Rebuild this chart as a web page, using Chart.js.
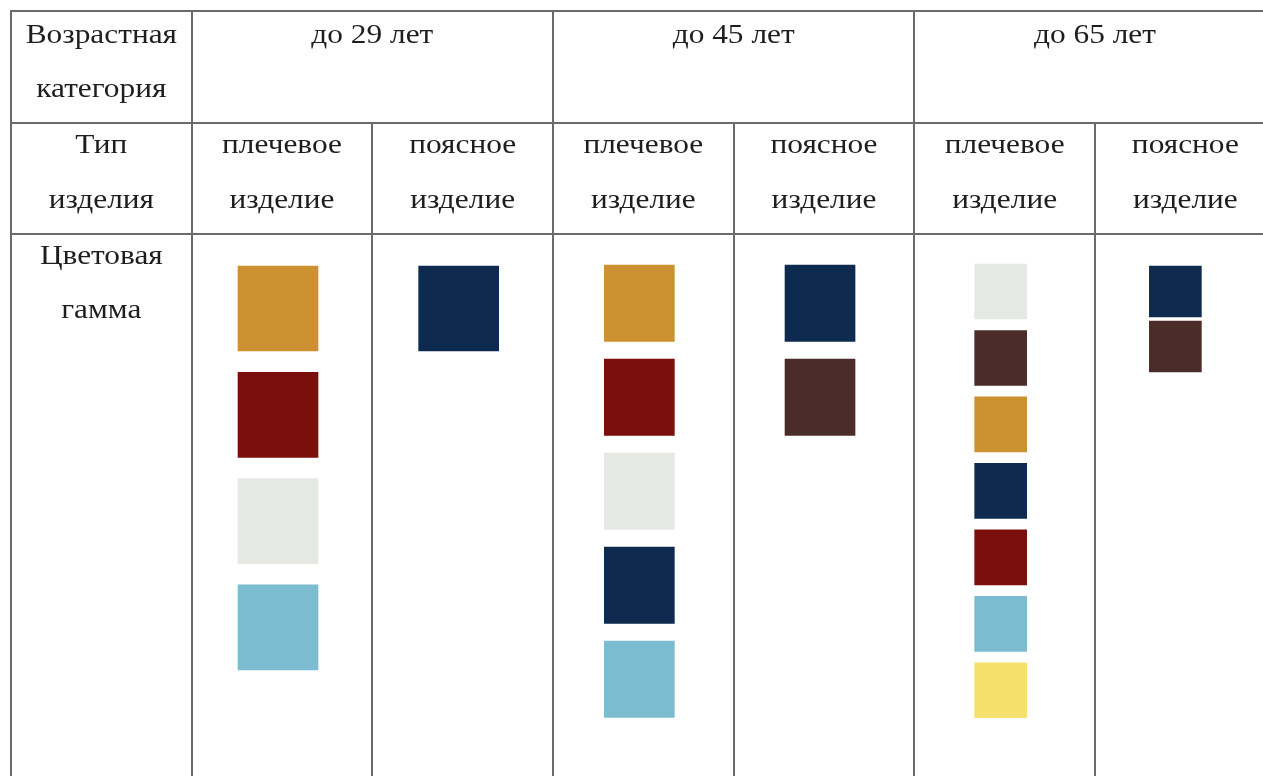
<!DOCTYPE html>
<html lang="ru">
<head>
<meta charset="utf-8">
<title>Цветовая гамма изделий по возрастным категориям</title>
<script src="https://cdn.jsdelivr.net/npm/chart.js@4.4.1/dist/chart.umd.min.js"></script>
<style>
  html, body { margin: 0; padding: 0; background: #fff; }
  #wrap { width: 1263px; height: 776px; position: relative; }
</style>
</head>
<body>
<div id="wrap"><canvas id="palette-table"></canvas></div>
<script>
/* ------------------------------------------------------------
   DATA
------------------------------------------------------------ */
const rowLabels = [["Возрастная", "категория"], ["Тип", "изделия"], ["Цветовая", "гамма"]];
const ageGroups = ["до 29 лет", "до 45 лет", "до 65 лет"];
const productTypes = [["плечевое", "изделие"], ["поясное", "изделие"]];

const palette = {
    mustard: "#cd9131",
    burgundy: "#7b0f0b",
    ivory: "#e6e8e4",
    lightBlue: "#7cbcd0",
    navy: "#0e2a4f",
    brown: "#4b2c28",
    yellow: "#f4e06a"
};

// colours of each column, top to bottom
const colors29Shoulder = ["mustard", "burgundy", "ivory", "lightBlue"];
const colors29Waist    = ["navy"];
const colors45Shoulder = ["mustard", "burgundy", "ivory", "navy", "lightBlue"];
const colors45Waist    = ["navy", "brown"];
const colors65Shoulder = ["ivory", "brown", "mustard", "navy", "burgundy", "lightBlue", "yellow"];
const colors65Waist    = ["navy", "brown"];

const columnColors = [colors29Shoulder, colors29Waist, colors45Shoulder, colors45Waist, colors65Shoulder, colors65Waist];

/* ------------------------------------------------------------
   LAYOUT (pixels of the 1263 x 776 picture)
------------------------------------------------------------ */
const W = 1263, H = 776;
const TABLE_LEFT = 11;
const COL_W = 180.67;
const ROW_LINES = [11, 123, 234];
const BASELINES = [[43, 97], [153, 208], [264, 318]];
const TEXT_SX = 1.12;

const swatchGroups = {
    A: { top: 266, pitch: 106.3, size: 85, width: 80, shift: -4 },
    B: { top: 265, pitch: 94, size: 76.5, width: 70, shift: -4 },
    C: { top: 264, pitch: 66.46, size: 55, width: 52, shift: -4 },
    D: { top: 266, pitch: 55, size: 51, width: 52, shift: -10 }
};
const columnGroup = ["A", "A", "B", "B", "C", "D"];

/* ------------------------------------------------------------
   DATASETS: one floating-bar set per table column
------------------------------------------------------------ */
const datasets = columnColors.map((colors, j) => {
    const g = swatchGroups[columnGroup[j]];
    const xVal = j + 1.5 + g.shift / COL_W;
    return {
        label: ageGroups[Math.floor(j / 2)] + " / " + productTypes[j % 2].join(" "),
        yAxisID: "y" + columnGroup[j],
        data: colors.map((c, i) => ({ x: xVal, y: [i, i + g.size / g.pitch] })),
        backgroundColor: colors.map(c => palette[c]),
        borderWidth: 0,
        barThickness: g.width,
        grouped: false
    };
});

const scales = {
    x: {
        type: "linear", display: false, offset: false, bounds: "data",
        min: -TABLE_LEFT / COL_W, max: (W - TABLE_LEFT) / COL_W
    }
};
Object.keys(swatchGroups).forEach(k => {
    const g = swatchGroups[k];
    scales["y" + k] = {
        type: "linear", display: false, reverse: true, bounds: "data",
        min: -g.top / g.pitch, max: (H - g.top) / g.pitch
    };
});

/* ------------------------------------------------------------
   TABLE GRID AND TEXT
------------------------------------------------------------ */
const tablePlugin = {
    id: "tableGrid",
    beforeDraw(chart) {
        const ctx = chart.ctx;
        const xs = chart.scales.x;
        const px = k => Math.round(xs.getPixelForValue(k));

        ctx.save();
        ctx.fillStyle = "#fff";
        ctx.fillRect(0, 0, chart.width, chart.height);

        ctx.strokeStyle = "#6a6a6a";
        ctx.lineWidth = 2;
        ctx.beginPath();
        ROW_LINES.forEach(y => { ctx.moveTo(px(0) - 1, y); ctx.lineTo(chart.width, y); });
        [0, 1, 3, 5, 7].forEach(k => { ctx.moveTo(px(k), ROW_LINES[0]); ctx.lineTo(px(k), chart.height); });
        [2, 4, 6].forEach(k => { ctx.moveTo(px(k), ROW_LINES[1]); ctx.lineTo(px(k), chart.height); });
        ctx.stroke();

        ctx.fillStyle = "#1e1e1e";
        ctx.font = '28px "Liberation Serif"';
        ctx.textAlign = "center";
        ctx.textBaseline = "alphabetic";
        const text = (s, cx, y) => {
            ctx.save();
            ctx.translate(cx, y);
            ctx.scale(TEXT_SX, 1);
            ctx.fillText(s, 0, 0);
            ctx.restore();
        };

        rowLabels.forEach((lines, r) => lines.forEach((s, l) => text(s, xs.getPixelForValue(0.5), BASELINES[r][l])));
        ageGroups.forEach((s, a) => text(s, xs.getPixelForValue(2 + a * 2), BASELINES[0][0]));
        for (let j = 0; j < 6; j++) {
            productTypes[j % 2].forEach((s, l) => text(s, xs.getPixelForValue(j + 1.5), BASELINES[1][l]));
        }
        ctx.restore();
    }
};

new Chart(document.getElementById("palette-table"), {
    type: "bar",
    data: { datasets },
    options: {
        responsive: true,
        maintainAspectRatio: false,
        animation: false,
        layout: { padding: 0 },
        plugins: { legend: { display: false }, tooltip: { enabled: false } },
        scales
    },
    plugins: [tablePlugin]
});
</script>
</body>
</html>
